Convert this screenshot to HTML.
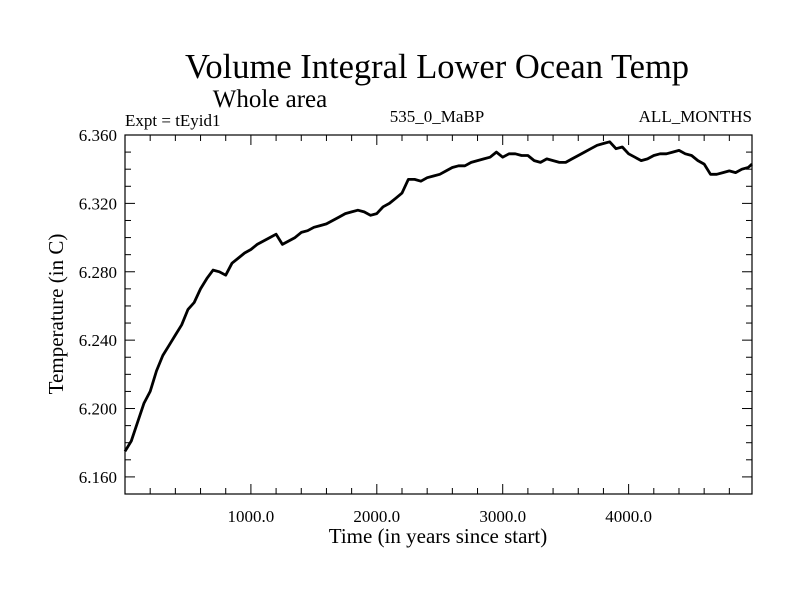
<!DOCTYPE html>
<html><head><meta charset="utf-8"><style>
body{margin:0;background:#fff}
svg{display:block;font-family:"Liberation Serif",serif}
</style></head><body>
<svg id="chart" width="800" height="600">
<text x="437" y="78" font-size="34.5" text-anchor="middle">Volume Integral Lower Ocean Temp</text>
<text x="270" y="107" font-size="25" text-anchor="middle">Whole area</text>
<text x="125" y="126" font-size="17">Expt = tEyid1</text>
<text x="437" y="122" font-size="17" text-anchor="middle">535_0_MaBP</text>
<text x="752" y="122" font-size="17" text-anchor="end">ALL_MONTHS</text>
<text x="438" y="543" font-size="21" text-anchor="middle">Time (in years since start)</text>
<text transform="translate(63,314) rotate(-90)" font-size="21" text-anchor="middle">Temperature (in C)</text>
<g id="axes"></g>
<path id="line" fill="none" stroke="#000" stroke-width="2.8" stroke-linejoin="round"/>
<rect x="125" y="135" width="627" height="359" fill="none" stroke="#000" stroke-width="1.2"/>
</svg>
<script>
const years=[0,50,100,150,200,250,300,350,400,450,500,550,600,650,700,750,800,850,900,950,1000,1050,1100,1150,1200,1250,1300,1350,1400,1450,1500,1550,1600,1650,1700,1750,1800,1850,1900,1950,2000,2050,2100,2150,2200,2250,2300,2350,2400,2450,2500,2550,2600,2650,2700,2750,2800,2850,2900,2950,3000,3050,3100,3150,3200,3250,3300,3350,3400,3450,3500,3550,3600,3650,3700,3750,3800,3850,3900,3950,4000,4050,4100,4150,4200,4250,4300,4350,4400,4450,4500,4550,4600,4650,4700,4750,4800,4850,4900,4950,4980];
const temps=[6.175,6.181,6.192,6.203,6.210,6.222,6.231,6.237,6.243,6.249,6.258,6.262,6.270,6.276,6.281,6.280,6.278,6.285,6.288,6.291,6.293,6.296,6.298,6.300,6.302,6.296,6.298,6.300,6.303,6.304,6.306,6.307,6.308,6.310,6.312,6.314,6.315,6.316,6.315,6.313,6.314,6.318,6.320,6.323,6.326,6.334,6.334,6.333,6.335,6.336,6.337,6.339,6.341,6.342,6.342,6.344,6.345,6.346,6.347,6.350,6.347,6.349,6.349,6.348,6.348,6.345,6.344,6.346,6.345,6.344,6.344,6.346,6.348,6.350,6.352,6.354,6.355,6.356,6.352,6.353,6.349,6.347,6.345,6.346,6.348,6.349,6.349,6.350,6.351,6.349,6.348,6.345,6.343,6.337,6.337,6.338,6.339,6.338,6.340,6.341,6.343];
const xTicks=[1000,2000,3000,4000];
const xTickLabels=["1000.0","2000.0","3000.0","4000.0"];
const yTicks=[6.16,6.2,6.24,6.28,6.32,6.36];
const yTickLabels=["6.160","6.200","6.240","6.280","6.320","6.360"];
const X0=125,X1=752,Y0=494,Y1=135,xmin=0,xmax=4980,ymin=6.150,ymax=6.360;
function sx(v){return X0+(v-xmin)/(xmax-xmin)*(X1-X0);}
function sy(v){return Y0-(v-ymin)/(ymax-ymin)*(Y0-Y1);}
const NS="http://www.w3.org/2000/svg",g=document.getElementById('axes');
function ln(x1,y1,x2,y2,n){const l=document.createElementNS(NS,'line');l.setAttribute('x1',x1);l.setAttribute('y1',y1);l.setAttribute('x2',x2);l.setAttribute('y2',y2);l.setAttribute('stroke','#000');l.setAttribute('stroke-width','1');


g.appendChild(l);}
function tx(x,y,s,a,n){const t=document.createElementNS(NS,'text');t.setAttribute('x',x);t.setAttribute('y',y);t.setAttribute('font-size','17');t.setAttribute('text-anchor',a);t.textContent=s;


g.appendChild(t);}
for(let v=200;v<xmax;v+=200){const x=sx(v),maj=v%1000===0,L=maj?10:6;ln(x,Y0,x,Y0-L,'x-tick');ln(x,Y1,x,Y1+L,'x-tick-top');}
for(let k=0;k<=21;k++){const v=ymin+k*0.01;const y=sy(v),maj=Math.abs((v-6.16)/0.04-Math.round((v-6.16)/0.04))<1e-6,L=maj?10:6;ln(X0,y,X0+L,y,'y-tick');ln(X1,y,X1-L,y,'y-tick-right');}
xTicks.forEach((v,i)=>tx(sx(v),Y0+28,xTickLabels[i],'middle','x-tick-label'));
yTicks.forEach((v,i)=>tx(X0-8,sy(v)+6,yTickLabels[i],'end','y-tick-label'));
document.getElementById('line').setAttribute('d',years.map((y,i)=>(i?'L':'M')+sx(y).toFixed(1)+' '+sy(temps[i]).toFixed(1)).join(''));
</script>
</body></html>
